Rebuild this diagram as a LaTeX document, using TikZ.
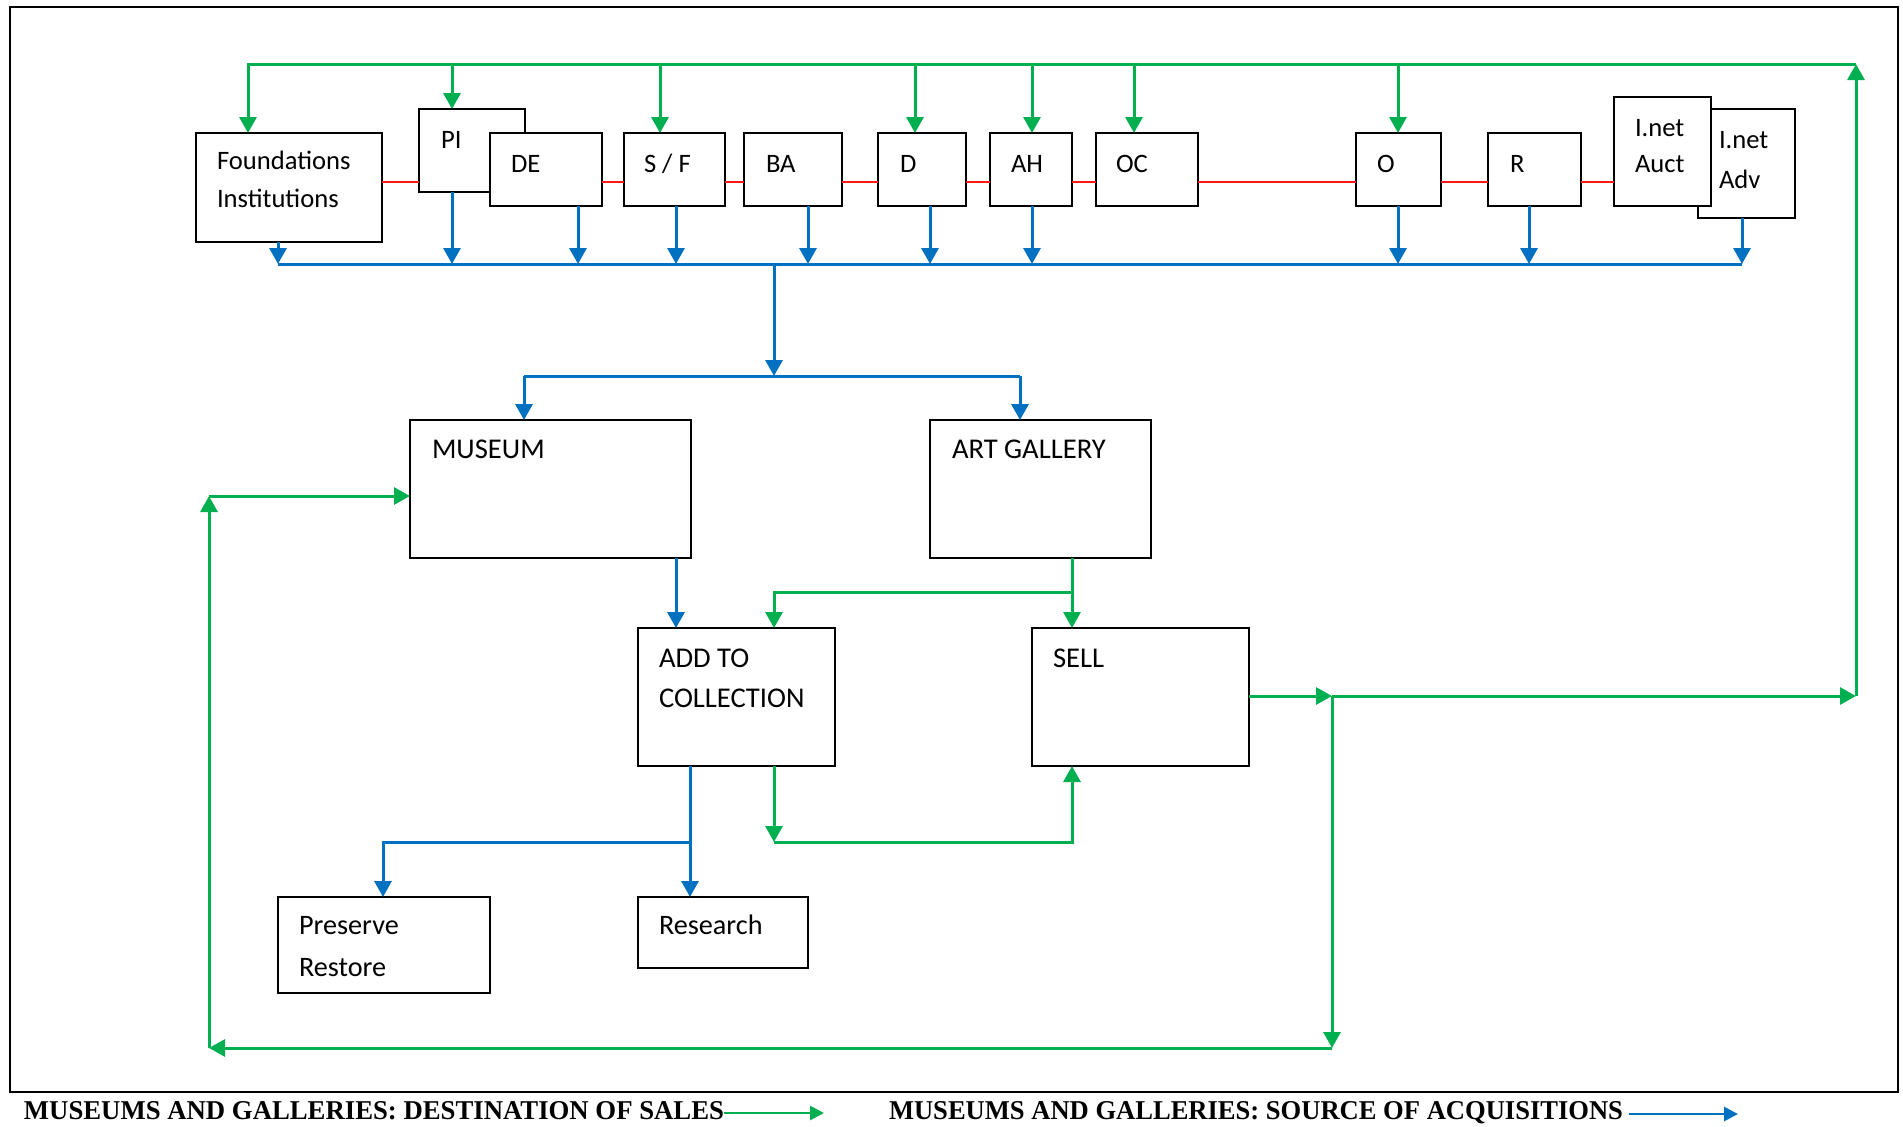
\documentclass[tikz,border=0pt]{standalone}
\usepackage{fontspec}
\setmainfont{Carlito}
\newfontfamily\legfont{Liberation Serif}
\usetikzlibrary{arrows.meta}
\newlength\pxu
\setlength\pxu{0.5pt}
\definecolor{lgreen}{RGB}{0,176,80}
\definecolor{lblue}{RGB}{0,112,192}
% box from corner (x1,y1) to corner (x2,y2), in pixel units
\newcommand\mkbox[5]{\node[boxst, minimum width={(#4-(#2))*0.5pt}, minimum height={(#5-(#3))*0.5pt}] (#1) at ({(#2+#4)/2},{(#3+#5)/2}) {};}
\begin{document}
\begin{tikzpicture}[x=0.5pt,y=-0.5pt,
  boxst/.style={draw=black, fill=white, line width=0.95pt, inner sep=0pt, outer sep=0pt},
  lbl/.style={anchor=base west, inner sep=0pt, outer sep=0pt, text=black},
  ta/.style={lbl, font=\fontsize{13.3pt}{15pt}\selectfont},
  tb/.style={lbl, font=\fontsize{14.3pt}{17pt}\selectfont},
  tc/.style={lbl, font=\fontsize{14.1pt}{16pt}\selectfont},
  gline/.style={draw=lgreen, line width=1.5pt},
  bline/.style={draw=lblue, line width=1.5pt},
  garr/.style={gline, -{Triangle[length=8pt,width=8.5pt]}},
  barr/.style={bline, -{Triangle[length=8pt,width=8.5pt]}},
  rline/.style={draw=red!90!white, line width=0.55pt}]
\useasboundingbox (0,0) rectangle (1903,1126);
\fill[white] (0,0) rectangle (1903,1126);
\draw[line width=1pt] (10,7) rectangle (1898,1092);

% top row of sources
\mkbox{fi}{196}{133}{382}{242}
\mkbox{pi}{419}{109}{525}{192}
\mkbox{de}{490}{133}{602}{206}
\mkbox{sf}{624}{133}{725}{206}
\mkbox{ba}{744}{133}{842}{206}
\mkbox{dd}{878}{133}{966}{206}
\mkbox{ah}{990}{133}{1072}{206}
\mkbox{oc}{1096}{133}{1198}{206}
\mkbox{oo}{1356}{133}{1441}{206}
\mkbox{rr}{1488}{133}{1581}{206}
\mkbox{adv}{1698}{109}{1795}{218}
\mkbox{auct}{1614}{97}{1711}{206}

% middle and lower boxes
\mkbox{mus}{410}{420}{691}{558}
\mkbox{gal}{930}{420}{1151}{558}
\mkbox{add}{638}{628}{835}{766}
\mkbox{sell}{1032}{628}{1249}{766}
\mkbox{pres}{278}{897}{490}{993}
\mkbox{res}{638}{897}{808}{968}

% labels
\node[ta] (tfi1) at (217,169) {Foundations};
\node[ta] (tfi2) at (217,207) {Institutions};
\node[ta] (tpi) at (441,148) {PI};
\node[ta] (tde) at (511,172) {DE};
\node[ta] (tsf) at (644,172) {S / F};
\node[ta] (tba) at (766,172) {BA};
\node[ta] (tdd) at (900,172) {D};
\node[ta] (tah) at (1011,172) {AH};
\node[ta] (toc) at (1116,172) {OC};
\node[ta] (too) at (1377,172) {O};
\node[ta] (trr) at (1510,172) {R};
\node[ta] (tau1) at (1635,136) {I.net};
\node[ta] (tau2) at (1635,172) {Auct};
\node[ta] (tad1) at (1719,148) {I.net};
\node[ta] (tad2) at (1719,188) {Adv};
\node[tb] (tmus) at (432,458) {MUSEUM};
\node[tb] (tgal) at (952,458) {ART GALLERY};
\node[tb] (tadd1) at (659,667) {ADD TO};
\node[tb] (tadd2) at (659,707) {COLLECTION};
\node[tb] (tsell) at (1053,667) {SELL};
\node[tc] (tpr1) at (299,934) {Preserve};
\node[tc] (tpr2) at (299,976) {Restore};
\node[tc] (tres) at (659,934) {Research};

% thin red links along the top row
\coordinate (ry) at (0,182);
\foreach \a/\b in {fi/pi,de/sf,sf/ba,ba/dd,dd/ah,ah/oc,oc/oo,oo/rr,rr/auct}
  \draw[rline] (\a.east |- ry) -- (\b.west |- ry);

% green: sales loop
\coordinate (gtr) at (1856,64);
\coordinate (gtl) at (248,64);
\coordinate (gmr) at (1856,696);
\coordinate (gj) at (1332,696);
\coordinate (gbr) at (1332,1048);
\coordinate (gbl) at (209,1048);
\coordinate (gml) at (209,496);
\draw[garr] (sell.east |- gj) -- (gj);
\draw[garr] (gj) -- (gmr);
\draw[garr] (gmr) -- (gtr);
\draw[garr] (gtr) -- (gtl) -- (gtl |- fi.north);
\foreach \bb/\xx in {pi/452,sf/660,dd/915,ah/1032,oc/1134,oo/1398}{
  \coordinate (g\bb) at (\xx,64);
  \draw[garr] (g\bb) -- (g\bb |- \bb.north);
}
\draw[garr] (gj) -- (gbr);
\draw[garr] (gbr) -- (gbl);
\draw[garr] (gbl) -- (gml);
\draw[garr] (gml) -- (gml -| mus.west);

% green: gallery to add / sell
\coordinate (ggs) at (1072,592);
\coordinate (gga) at (774,592);
\draw[garr] (ggs |- gal.south) -- (ggs |- sell.north);
\draw[garr] (ggs) -- (gga) -- (gga |- add.north);
\coordinate (gas1) at (774,842);
\coordinate (gas2) at (1072,842);
\draw[garr] (gas1 |- add.south) -- (gas1);
\draw[garr] (gas1) -- (gas2) -- (gas2 |- sell.south);

% blue: acquisitions bus
\foreach \bb/\xx in {fi/278,pi/452,de/578,sf/676,ba/808,dd/930,ah/1032,oo/1398,rr/1529,adv/1742}{
  \coordinate (b\bb) at (\xx,264);
  \draw[barr] (b\bb |- \bb.south) -- (b\bb);
}
\draw[bline] (bfi) -- (badv);
\coordinate (bc) at (774,264);
\coordinate (bc2) at (774,376);
\draw[barr] (bc) -- (bc2);
\coordinate (bm) at (524,376);
\coordinate (bg) at (1020,376);
\draw[bline] (bm) -- (bg);
\draw[barr] (bm) -- (bm |- mus.north);
\draw[barr] (bg) -- (bg |- gal.north);
\coordinate (bma) at (676,600);
\draw[barr] (bma |- mus.south) -- (bma |- add.north);
\coordinate (bar) at (690,842);
\coordinate (bap) at (383,842);
\draw[barr] (bar |- add.south) -- (bar |- res.north);
\draw[barr] (bar) -- (bap) -- (bap |- pres.north);

% legend
\node[lbl] (leg1) at (24,1119) {\resizebox{700\pxu}{18\pxu}{\legfont\bfseries MUSEUMS AND GALLERIES: DESTINATION OF SALES}};
\coordinate (l1) at (824,1113);
\draw[lgreen, line width=1.4pt, -{Triangle[length=7pt,width=7pt]}] (leg1.east |- l1) -- (l1);
\node[lbl] (leg2) at (889,1119) {\resizebox{734\pxu}{18\pxu}{\legfont\bfseries MUSEUMS AND GALLERIES: SOURCE OF ACQUISITIONS}};
\coordinate (l2) at (1738,1114);
\draw[lblue, line width=1.4pt, -{Triangle[length=7pt,width=7pt]}] ([xshift=3pt]leg2.east |- l2) -- (l2);
\end{tikzpicture}
\end{document}
